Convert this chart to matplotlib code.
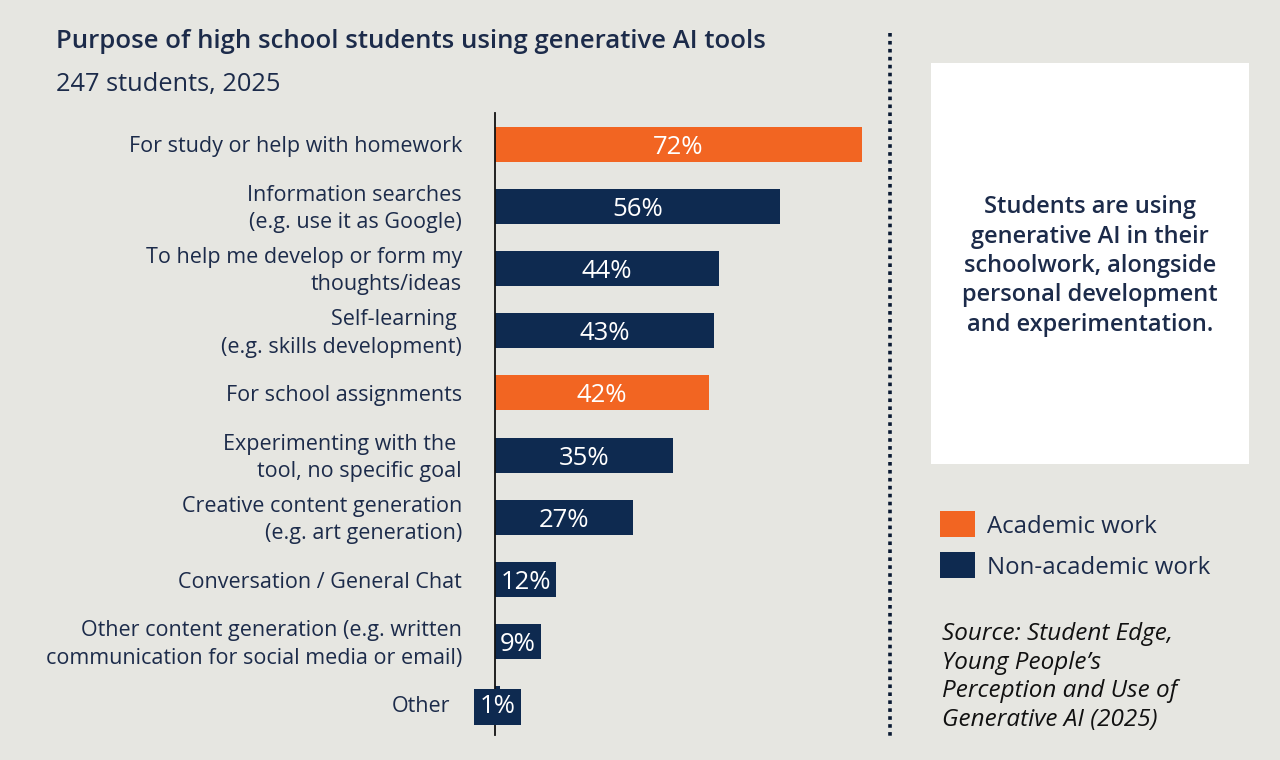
import matplotlib.pyplot as plt
from matplotlib.patches import Rectangle

# Data
categories = [
    'For study or help with homework',
    'Information searches\n(e.g. use it as Google)',
    'To help me develop or form my\nthoughts/ideas',
    'Self-learning \n(e.g. skills development)',
    'For school assignments',
    'Experimenting with the \ntool, no specific goal',
    'Creative content generation\n(e.g. art generation)',
    'Conversation / General Chat',
    'Other content generation (e.g. written\ncommunication for social media or email)',
    'Other',
]
values = [72, 56, 44, 43, 42, 35, 27, 12, 9, 1]
academic = [True, False, False, False, True, False, False, False, False, False]

ORANGE = '#F26522'
NAVY = '#0E2A50'
TEXT = '#1C2B4A'
BG = '#E6E6E1'

plt.rcParams['font.family'] = ['Open Sans', 'DejaVu Sans']

fig = plt.figure(figsize=(12.8, 7.6), dpi=100)
fig.patch.set_facecolor(BG)

# axes: x=0 at px 495, x=72 at px 862; rows span px 113..735
ax = fig.add_axes([495 / 1280, 1 - 735 / 760, 367 / 1280, (735 - 113) / 760])
ax.set_facecolor('none')
ax.set_xlim(0, 72)
ax.set_ylim(len(values) - 0.5, -0.5)

colors = [ORANGE if a else NAVY for a in academic]
ypos = list(range(len(values)))
ax.barh(ypos, values, height=0.56, color=colors, zorder=2)

for y, v, c, lab in zip(ypos, values, colors, categories):
    if v >= 5:
        ax.text(v / 2, y, f'{v}%', ha='center', va='center_baseline', color='white',
                fontsize=18.5, zorder=3)
        gap = 33
    else:
        # tiny bar: label sits in its own navy box over the axis line
        ax.text(v / 2, y, f'{v}%', ha='center', va='center_baseline', color='white',
                fontsize=18.5, zorder=4, clip_on=False,
                bbox=dict(boxstyle='square,pad=0.2', fc=c, ec='none'))
        gap = 45
    ax.annotate(lab, xy=(0, y), xycoords='data', xytext=(-gap * 0.72, -2),
                textcoords='offset points', ha='right', va='center',
                multialignment='right', fontsize=15.5, color=TEXT,
                linespacing=1.4, annotation_clip=False)

for s in ['top', 'right', 'bottom']:
    ax.spines[s].set_visible(False)
ax.spines['left'].set_color('#111111')
ax.spines['left'].set_linewidth(1.3)
ax.set_xticks([])
ax.set_yticks([])

# Title and subtitle
fig.text(56 / 1280, 1 - 41 / 760, 'Purpose of high school students using generative AI tools',
         fontsize=18.5, fontweight='semibold', color=TEXT, va='center', ha='left')
fig.text(56 / 1280, 1 - 84 / 760, '247 students, 2025',
         fontsize=18.3, color=TEXT, va='center', ha='left')

# Dotted divider
fig.add_artist(plt.Line2D([890 / 1280, 890 / 1280], [1 - 33 / 760, 1 - 737 / 760],
                          color='#0A1A33', linestyle=(0, (1, 1.2)), linewidth=2.6))

# White callout box
fig.add_artist(Rectangle((931 / 1280, 1 - 464 / 760), (1249 - 931) / 1280, (464 - 63) / 760,
                         transform=fig.transFigure, fc='white', ec='none'))
fig.text(1090 / 1280, 1 - 266 / 760,
         'Students are using\ngenerative AI in their\nschoolwork, alongside\npersonal development\nand experimentation.',
         ha='center', va='center', fontsize=17, fontweight='semibold', color=TEXT,
         linespacing=1.3)

# Legend
legend_items = [('Academic work', ORANGE), ('Non-academic work', NAVY)]
for i, (name, col) in enumerate(legend_items):
    yc = 524 + i * 41
    fig.add_artist(Rectangle((940 / 1280, 1 - (yc + 13) / 760), 35 / 1280, 26 / 760,
                             transform=fig.transFigure, fc=col, ec='none'))
    fig.text(987 / 1280, 1 - (yc + 3) / 760, name, ha='left', va='center',
             fontsize=17.3, color=TEXT)

# Source
fig.text(942 / 1280, 1 - 677 / 760,
         'Source: Student Edge,\nYoung People\u2019s\nPerception and Use of\nGenerative AI (2025)',
         ha='left', va='center', fontsize=17.5, style='italic', color='#111111',
         linespacing=1.27)

fig.savefig('out.png', dpi=100, facecolor=BG)
